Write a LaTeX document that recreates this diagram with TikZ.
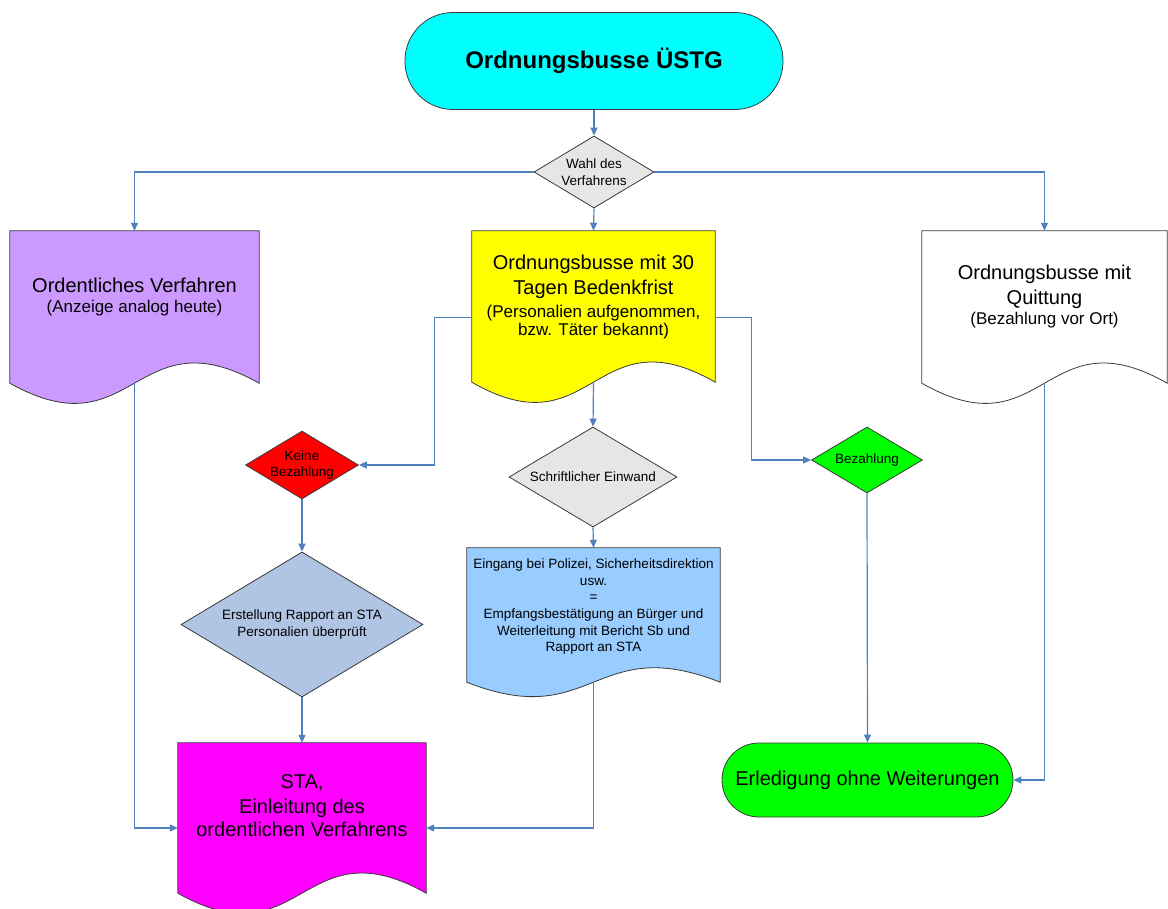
\documentclass[tikz,border=0pt]{standalone}
\usepackage{fontspec}
\setmainfont{Liberation Sans}
\usepackage{xcolor}
\usepackage{tikz}
\usetikzlibrary{positioning, arrows.meta, calc, shapes.geometric}
\definecolor{linec}{HTML}{4F81BD}
\definecolor{ink}{HTML}{3A3A3A}
\definecolor{startc}{HTML}{00FFFF}
\definecolor{ordc}{HTML}{CC99FF}
\definecolor{obc}{HTML}{FFFF00}
\definecolor{keinec}{HTML}{FF0000}
\definecolor{bezc}{HTML}{00FF00}
\definecolor{grayc}{HTML}{E6E6E6}
\definecolor{rappc}{HTML}{B0C4E4}
\definecolor{eingc}{HTML}{99CCFF}
\definecolor{stac}{HTML}{FF00FF}
\newcommand{\subt}[1]{{\fontsize{17}{20}\selectfont #1}}

\begin{document}
\begin{tikzpicture}[
  x=1pt, y=-1pt,
  font=\fontsize{20}{25}\selectfont,
  >={Triangle[length=8pt, width=7pt]},
  term/.style={rectangle, draw=ink, line width=0.8pt, inner sep=0pt},
  dec/.style={diamond, draw=ink, line width=0.8pt, inner sep=0pt},
  docframe/.style={rectangle, inner sep=0pt},
  docline/.style={draw=ink, line width=0.8pt},
  txt/.style={align=center, inner sep=0pt},
  dectext/.style={align=center, inner sep=0pt, font=\fontsize{13.5}{16.6}\selectfont},
  arr/.style={->, line width=1.2pt, draw=linec},
]
\newcommand{\docshape}[3]{% frame, fill, wave depth
  \draw[docline, fill=#2] (#1.north west) -- (#1.north east) -- (#1.south east)
    .. controls ($(#1.south)+(0,-#3)$) and ($(#1.south)+(0,#3)$) .. (#1.south west) -- cycle;}

\useasboundingbox (0,0) rectangle (1168,909);

% ---------------- start ----------------
\node[term, fill=startc, minimum width=378pt, minimum height=97pt, rounded corners=48pt,
      font=\fontsize{24}{28}\selectfont\bfseries] (start) at (594,61) {Ordnungsbusse ÜSTG};

% ---------------- Wahl des Verfahrens ----------------
\node[dec, fill=grayc, minimum width=120pt, minimum height=72pt] (wahl) at (594,172) {};
\node[dectext] (wahl-t) at (wahl) {Wahl des\\Verfahrens};
\draw[arr] (start.south) -- (wahl.north);

% ---------------- three procedures ----------------
\node[docframe, minimum width=249pt, minimum height=152pt] (ord) at (134.5,307) {};
\docshape{ord}{ordc}{70}
\node[txt, below=47pt of ord.north] (ord-t) {Ordentliches Verfahren\\[-5pt]\subt{(Anzeige analog heute)}};

\node[docframe, minimum width=243pt, minimum height=151pt] (ob30) at (593.5,306.5) {};
\docshape{ob30}{obc}{70}
\node[txt, below=24pt of ob30.north] (ob30-t) {Ordnungsbusse mit 30\\Tagen Bedenkfrist\\[-2pt]\subt{(Personalien aufgenommen,}\\[-7pt]\subt{bzw. Täter bekannt)}};

\node[docframe, minimum width=245pt, minimum height=152pt] (quit) at (1044.5,307) {};
\docshape{quit}{white}{70}
\node[txt, below=34pt of quit.north] (quit-t) {Ordnungsbusse mit\\Quittung\\[-5pt]\subt{(Bezahlung vor Ort)}};

\draw[arr] (wahl.west) -| (ord.north);
\draw[arr] (wahl.south) -- (ob30.north);
\draw[arr] (wahl.east) -| (quit.north);

% ---------------- decisions under the 30 days ----------------
\node[dec, fill=keinec, minimum width=113pt, minimum height=68pt] (keine) at (302,465) {};
\node[dectext] (keine-t) at (keine) {Keine\\Bezahlung};

\node[dec, fill=grayc, minimum width=168pt, minimum height=100pt] (einw) at (593,477) {};
\node[dectext] (einw-t) at (einw) {Schriftlicher Einwand};

\node[dec, fill=bezc, minimum width=111pt, minimum height=66pt] (bez) at (867,460) {};
\node[dectext] (bez-t) at (bez) {Bezahlung};

\draw[arr] ([yshift=-11pt]ob30.west) -- ++(-37,0) |- (keine.east);
\draw[arr] (ob30.south) -- (einw.north);
\draw[arr] ([yshift=-11pt]ob30.east) -- ++(36,0) |- (bez.west);

% ---------------- Rapport / Eingang ----------------
\node[dec, fill=rappc, minimum width=242pt, minimum height=145pt] (rapp) at (302,624.5) {};
\node[dectext] (rapp-t) at (rapp) {Erstellung Rapport an STA\\Personalien überprüft};
\draw[arr] (keine.south) -- (rapp.north);

\node[docframe, minimum width=253pt, minimum height=134pt] (eing) at (593.5,615) {};
\docshape{eing}{eingc}{50}
\node[dectext, below=11pt of eing.north] (eing-t) {Eingang bei Polizei, Sicherheitsdirektion\\usw.\\=\\Empfangsbestätigung an Bürger und\\Weiterleitung mit Bericht Sb und\\Rapport an STA};
\draw[arr] (einw.south) -- (eing.north);

% ---------------- results ----------------
\node[docframe, minimum width=248pt, minimum height=150pt] (sta) at (302,818) {};
\docshape{sta}{stac}{70}
\node[txt, below=32pt of sta.north] (sta-t) {STA,\\Einleitung des\\[-2pt]ordentlichen Verfahrens};

\node[term, fill=bezc, minimum width=291pt, minimum height=74pt, rounded corners=37pt] (done) at (867.5,780) {Erledigung ohne Weiterungen};

\draw[arr] (rapp.south) -- (sta.north);
\draw[arr] (ord.south) |- ([yshift=-10pt]sta.west);
\draw[arr] (eing.south) |- ([yshift=-10pt]sta.east);
\draw[arr] (bez.south) -- (done.north);
\draw[arr] (quit.south) |- (done.east);

\end{tikzpicture}
\end{document}
